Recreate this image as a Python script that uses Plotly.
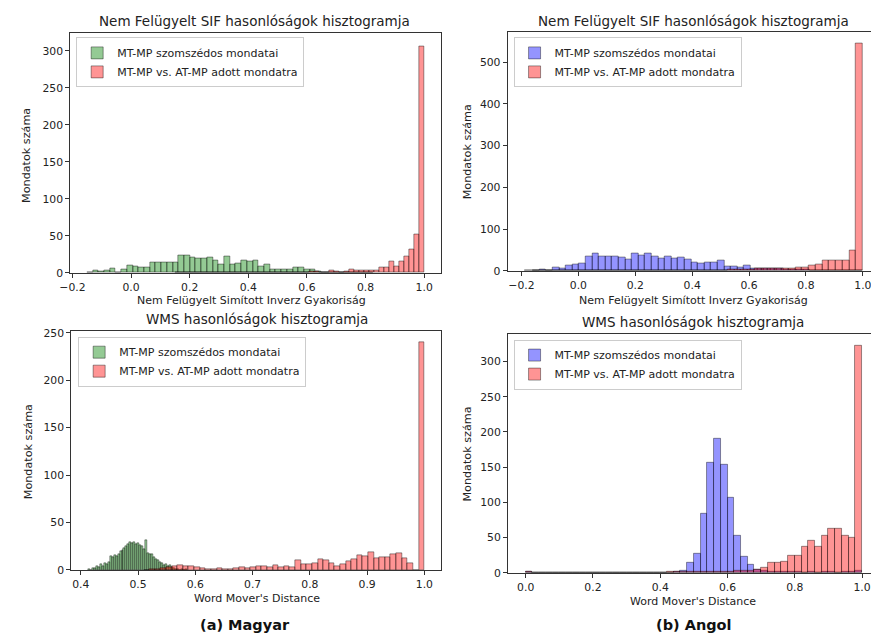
import numpy as np
import plotly.graph_objects as go

W, H = 871, 640

# ---------------- data ----------------
# Panel (a) top: SIF, Hungarian
hu_sif_nb_range = (-0.15, 0.825)
hu_sif_nb_counts = [1, 3, 2, 3, 6, 0, 4, 10, 9, 7,
                    8, 14, 14, 14, 14, 14, 23, 23, 21, 20,
                    20, 21, 17, 12, 22, 12, 13, 17, 16, 17,
                    9, 12, 5, 5, 4, 5, 8, 8, 4, 4,
                    2, 1, 1, 1, 0, 0, 0, 1, 0, 0]
hu_sif_pair_range = (0.15, 1.0)
hu_sif_pair_counts = [0] * 19 + [1, 0, 1, 0, 1, 1, 1, 1, 2, 2,
                                 1, 1, 3, 2, 1, 2, 4, 3, 3, 3,
                                 3, 3, 7, 7, 15, 9, 15, 22, 31, 52, 306]

# Panel (b) top: SIF, English
en_sif_nb_range = (-0.16, 1.0)
en_sif_nb_counts = [2, 4, 2, 9, 7, 12, 15, 18, 34, 42,
                    34, 34, 34, 32, 27, 42, 37, 42, 34, 30,
                    34, 30, 32, 27, 21, 18, 20, 20, 26, 10,
                    10, 8, 12, 6, 6, 6, 5, 5, 4, 4,
                    3, 3, 2, 2, 1, 1, 1, 1, 1, 2]
en_sif_pair_range = (-0.189, 1.0)
en_sif_pair_counts = [1] + [0] * 25 + [1, 1, 1, 2, 3, 4, 4, 4, 5, 5,
                                       5, 6, 6, 7, 9, 9, 12, 16, 24, 24,
                                       24, 24, 50, 545]

# Panel (a) bottom: WMS, Hungarian
hu_wms_nb_range = (0.413, 0.585)
hu_wms_nb_counts = [1, 0, 2, 2, 4, 3, 6, 4, 7, 6,
                    8, 14, 13, 15, 14, 17, 20, 21, 23, 25,
                    27, 29, 28, 29, 27, 28, 26, 25, 22, 31,
                    18, 16, 17, 13, 11, 10, 8, 7, 5, 6,
                    4, 5, 3, 2, 1, 1, 0, 1, 0, 1]
hu_wms_pair_range = (0.51, 1.0)
hu_wms_pair_counts = [0, 1, 1, 2, 3, 4, 5, 4, 4, 3,
                      2, 1, 1, 2, 1, 1, 2, 3, 2, 3,
                      4, 4, 3, 5, 3, 4, 3, 10, 6, 6,
                      7, 11, 10, 7, 4, 6, 9, 11, 15, 14,
                      19, 12, 13, 13, 16, 18, 12, 7, 0, 240]

# Panel (b) bottom: WMS, English
en_wms_nb_range = (0.0, 1.0)
en_wms_nb_counts = [1] + [0] * 21 + [1, 3, 14, 27, 84, 157, 190, 154,
                                     106, 53, 23, 12, 5, 3, 2, 1, 1, 1,
                                     1, 0, 1, 0, 1, 1, 0, 1, 1, 3]
en_wms_pair_range = (0.0, 1.0)
en_wms_pair_counts = [2] + [0] * 20 + [1, 1, 1, 1, 1, 1, 2, 1, 2,
                                       2, 3, 3, 3, 5, 8, 14, 14, 16, 24,
                                       24, 37, 46, 37, 53, 62, 63, 53, 50, 322]

series_names = ["MT-MP szomszédos mondatai", "MT-MP vs. AT-MP adott mondatra"]
titles = ["Nem Felügyelt SIF hasonlóságok hisztogramja",
          "Nem Felügyelt SIF hasonlóságok hisztogramja",
          "WMS hasonlóságok hisztogramja",
          "WMS hasonlóságok hisztogramja"]
x_titles = ["Nem Felügyelt Simított Inverz Gyakoriság",
            "Nem Felügyelt Simított Inverz Gyakoriság",
            "Word Mover's Distance", "Word Mover's Distance"]
y_title = "Mondatok száma"
captions = ["(a) Magyar", "(b) Angol"]

sif_xticks = [-0.2, 0.0, 0.2, 0.4, 0.6, 0.8, 1.0]
sif_xticklabels = ["\u22120.2", "0.0", "0.2", "0.4", "0.6", "0.8", "1.0"]
hu_wms_xticks = [0.4, 0.5, 0.6, 0.7, 0.8, 0.9, 1.0]
hu_wms_xticklabels = ["0.4", "0.5", "0.6", "0.7", "0.8", "0.9", "1.0"]
en_wms_xticks = [0.0, 0.2, 0.4, 0.6, 0.8, 1.0]
en_wms_xticklabels = ["0.0", "0.2", "0.4", "0.6", "0.8", "1.0"]
yticks_1 = [0, 50, 100, 150, 200, 250, 300]
yticks_2 = [0, 100, 200, 300, 400, 500]
yticks_3 = [0, 50, 100, 150, 200, 250]
yticks_4 = [0, 50, 100, 150, 200, 250, 300]

# ---------------- style ----------------
GREEN = "rgba(0,128,0,0.42)"
BLUE = "rgba(0,0,255,0.42)"
RED = "rgba(255,0,0,0.42)"
EDGE = "rgba(0,0,0,0.5)"
TXT = "#222222"
SPINE = "#333333"
FONT = "DejaVu Sans"

# pixel geometry of each axes box: (left, right, top, bottom)
boxes = [(60, 435.5, 29, 273), (503, 871, 28, 271),
         (61, 435.5, 332.5, 575.7), (503.3, 871, 335, 578.7)]
xranges = [[-0.2075, 1.0575], [-0.2486, 1.0287], [0.3833, 1.029], [-0.0527, 1.0266]]
yranges = [[0, 323.6], [0, 571], [0, 251.6], [0, 339.5]]
title_pos = [(247, 16), (691.5, 16), (249, 320), (690.5, 323.5)]
xtitle_pos = [(244, 301), (691, 301), (249, 605), (691, 608)]
ytitle_pos = [(15, 153), (462, 150), (18, 455), (462, 458)]
legend_pos = [(66, 33), (509, 33), (68, 338), (509, 341)]
caption_pos = [(237, 632), (692, 632)]

panels = [
    (hu_sif_nb_range, hu_sif_nb_counts, GREEN, hu_sif_pair_range, hu_sif_pair_counts,
     sif_xticks, sif_xticklabels, yticks_1),
    (en_sif_nb_range, en_sif_nb_counts, BLUE, en_sif_pair_range, en_sif_pair_counts,
     sif_xticks, sif_xticklabels, yticks_2),
    (hu_wms_nb_range, hu_wms_nb_counts, GREEN, hu_wms_pair_range, hu_wms_pair_counts,
     hu_wms_xticks, hu_wms_xticklabels, yticks_3),
    (en_wms_nb_range, en_wms_nb_counts, BLUE, en_wms_pair_range, en_wms_pair_counts,
     en_wms_xticks, en_wms_xticklabels, yticks_4),
]


def px(x):
    return x / W


def py(y):
    return 1 - y / H


def bins(rng, counts):
    n = len(counts)
    edges = np.linspace(rng[0], rng[1], n + 1)
    return (edges[:-1] + edges[1:]) / 2, (rng[1] - rng[0]) / n


fig = go.Figure()
layout = dict(width=W, height=H, margin=dict(l=0, r=0, t=0, b=0, pad=0),
              plot_bgcolor="white", paper_bgcolor="white",
              barmode="overlay", bargap=0,
              font=dict(family=FONT, color=TXT, size=10.5))
annotations = []

for i, (nbr, nbc, col, prr, prc, xt, xtl, yt) in enumerate(panels):
    k = i + 1
    xa = "x" if k == 1 else f"x{k}"
    ya = "y" if k == 1 else f"y{k}"
    lg = "legend" if k == 1 else f"legend{k}"
    c1, w1 = bins(nbr, nbc)
    c2, w2 = bins(prr, prc)
    fig.add_trace(go.Bar(x=c1, y=nbc, width=w1, name=series_names[0],
                         marker=dict(color=col, line=dict(color=EDGE, width=0.8)),
                         xaxis=xa, yaxis=ya, legend=lg))
    fig.add_trace(go.Bar(x=c2, y=prc, width=w2, name=series_names[1],
                         marker=dict(color=RED, line=dict(color=EDGE, width=0.8)),
                         xaxis=xa, yaxis=ya, legend=lg))
    l, r, t, b = boxes[i]
    right_panel = i in (1, 3)
    layout[f"xaxis{'' if k == 1 else k}"] = dict(
        domain=[px(l), px(r)], anchor=ya, range=xranges[i],
        tickvals=xt, ticktext=xtl, ticks="outside", ticklen=4, tickwidth=1,
        tickcolor=SPINE, showline=True, linecolor=SPINE, linewidth=1,
        mirror=True, showgrid=False, zeroline=False, ticklabeloverflow="allow",
        tickfont=dict(size=10.8, color=TXT, family=FONT))
    layout[f"yaxis{'' if k == 1 else k}"] = dict(
        domain=[py(b), py(t)], anchor=xa, range=yranges[i],
        tickvals=yt, ticks="outside", ticklen=4, tickwidth=1,
        tickcolor=SPINE, showline=True, linecolor=SPINE, linewidth=1,
        mirror=not right_panel, showgrid=False, zeroline=False,
        ticklabeloverflow="allow",
        tickfont=dict(size=10.8, color=TXT, family=FONT))
    lx, ly = legend_pos[i]
    layout[lg] = dict(x=px(lx), y=py(ly), xanchor="left", yanchor="top",
                      xref="paper", yref="paper",
                      bgcolor="rgba(255,255,255,0.8)", bordercolor="#cccccc",
                      borderwidth=1, tracegroupgap=0,
                      font=dict(size=11, family=FONT, color=TXT))
    tx, ty = title_pos[i]
    annotations.append(dict(text=titles[i], xref="paper", yref="paper",
                            x=px(tx), y=py(ty),
                            showarrow=False, xanchor="center", yanchor="middle",
                            font=dict(size=13.5, family=FONT, color=TXT)))
    tx, ty = xtitle_pos[i]
    annotations.append(dict(text=x_titles[i], xref="paper", yref="paper",
                            x=px(tx), y=py(ty),
                            showarrow=False, xanchor="center", yanchor="middle",
                            font=dict(size=11, family=FONT, color=TXT)))
    tx, ty = ytitle_pos[i]
    annotations.append(dict(text=y_title, xref="paper", yref="paper",
                            x=px(tx), y=py(ty),
                            showarrow=False, xanchor="center", yanchor="middle",
                            textangle=-90,
                            font=dict(size=11.2, family=FONT, color=TXT)))

for cap, (cx, cy) in zip(captions, caption_pos):
    annotations.append(dict(text="<b>" + cap + "</b>", xref="paper", yref="paper",
                            x=px(cx), y=py(cy), showarrow=False,
                            xanchor="center", yanchor="middle",
                            font=dict(size=14.5, family=FONT, color="#111")))

layout["annotations"] = annotations
fig.update_layout(**layout)
fig.write_html(
    "out.html",
    config={"displayModeBar": False},
    post_script="document.body.style.margin='0';document.body.style.padding='0';"
                "document.body.style.overflow='hidden';",
)
